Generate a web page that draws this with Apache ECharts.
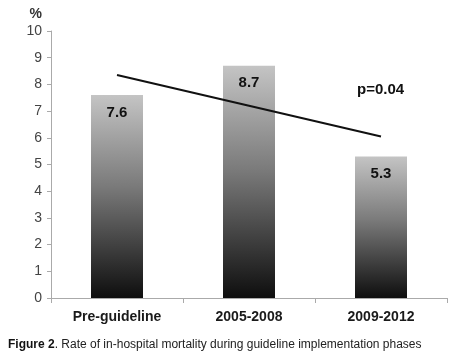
<!DOCTYPE html>
<html><head><meta charset="utf-8">
<script src="https://cdn.jsdelivr.net/npm/echarts@6/dist/echarts.min.js"></script>
<style>html,body{margin:0;padding:0;background:#fff}#c{width:457px;height:362px}</style>
</head><body><div id="c"></div>
<script>
var categories = ['Pre-guideline', '2005-2008', '2009-2012'];
var mortality = [7.6, 8.7, 5.3];
var trend = [8.35, 7.2, 6.05];
var yTicks = [0, 1, 2, 3, 4, 5, 6, 7, 8, 9, 10];

var chart = echarts.init(document.getElementById('c'));
chart.setOption({
  animation: false,
  grid: {left: 51, right: 10, top: 31, bottom: 64},
  xAxis: {
    type: 'category', data: categories,
    axisLine: {lineStyle: {color: '#aaa', width: 1}},
    axisTick: {show: true, alignWithLabel: false, length: 5, lineStyle: {color: '#aaa'}},
    axisLabel: {fontFamily: 'Liberation Sans', fontWeight: 'bold', fontSize: 14, color: '#1a1a1a', margin: 12}
  },
  yAxis: {
    type: 'value', min: 0, max: 10, interval: 1,
    name: '%', nameLocation: 'end', nameGap: 10,
    nameTextStyle: {fontFamily: 'Liberation Sans', fontWeight: 'bold', fontSize: 14, color: '#333', align: 'right', padding: [0, 9, 0, 0]},
    axisLine: {show: true, lineStyle: {color: '#aaa'}},
    axisTick: {show: true, length: 4, lineStyle: {color: '#aaa'}},
    splitLine: {show: false},
    axisLabel: {fontFamily: 'Liberation Sans', fontSize: 14, color: '#444', margin: 9,
      formatter: function (v) { return yTicks.indexOf(v) >= 0 ? String(v) : ''; }}
  },
  series: [{
    type: 'bar', data: mortality, barWidth: 52,
    itemStyle: {
      color: new echarts.graphic.LinearGradient(0, 0, 0, 1, [
        {offset: 0, color: '#c4c4c4'},
        {offset: 0.45, color: '#7a7a7a'},
        {offset: 1, color: '#0e0e0e'}
      ])
    },
    label: {show: true, position: 'insideTop', distance: 10,
      fontFamily: 'Liberation Sans', fontWeight: 'bold', fontSize: 15, color: '#111',
      formatter: function (p) { return p.value.toFixed(1); }}
  }, {
    type: 'line', data: trend, symbol: 'none',
    lineStyle: {color: '#111', width: 2}, z: 5
  }],
  graphic: [
    {type: 'text', left: 357, top: 82, style: {text: 'p=0.04', font: 'bold 15px "Liberation Sans"', fill: '#111'}},
    {type: 'text', left: 8, top: 339, style: {
      text: '{b|Figure 2}{n|. Rate of in-hospital mortality during guideline implementation phases}',
      rich: {
        b: {font: 'bold 12px "Liberation Sans Narrow", "Liberation Sans"', fill: '#111'},
        n: {font: '12px "Liberation Sans Narrow", "Liberation Sans"', fill: '#222'}
      }
    }}
  ]
});
</script></body></html>
